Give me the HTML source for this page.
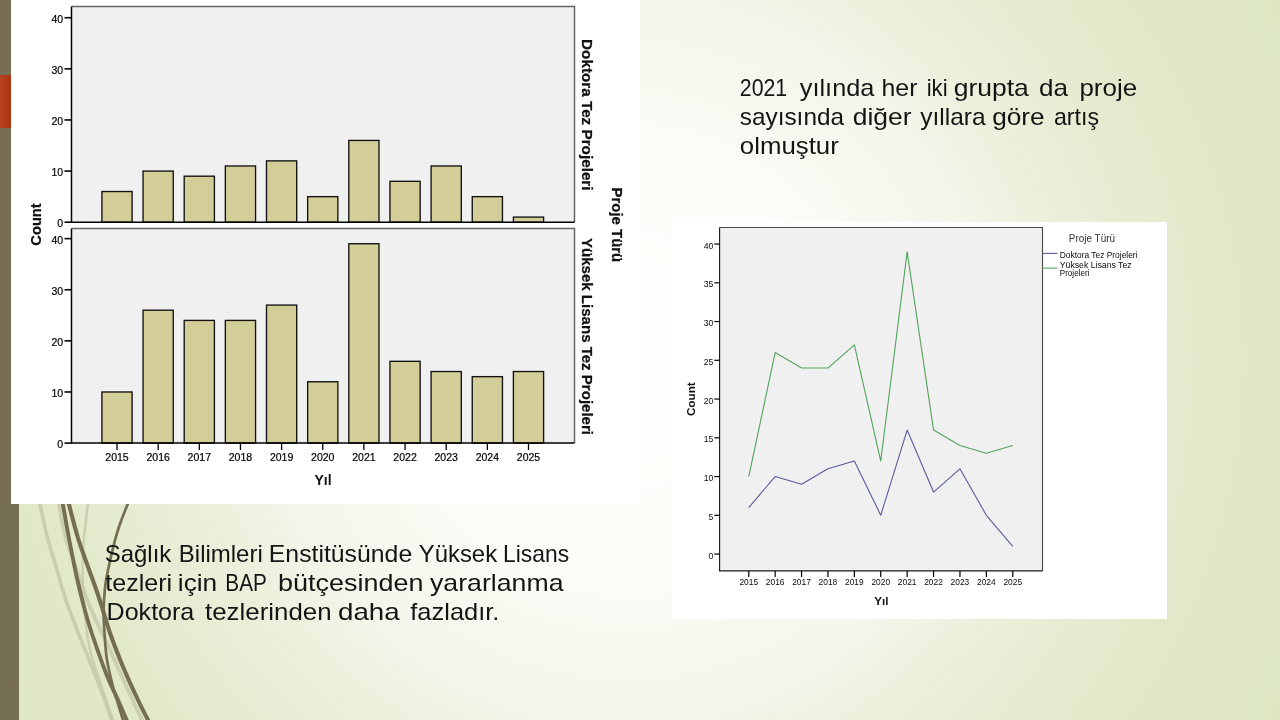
<!DOCTYPE html>
<html lang="tr">
<head>
<meta charset="utf-8">
<title>Proje Türü - Yıl</title>
<style>
html,body{margin:0;padding:0;}
body{width:1280px;height:720px;overflow:hidden;position:relative;font-family:"Liberation Sans", Arial, sans-serif;
background:#e2e9ca;}
#bg{position:absolute;left:0;top:0;width:1280px;height:720px;
background:radial-gradient(circle 745px at 626px 360px,#fefefc 0%,#fcfdf9 27%,#f2f5e8 49%,#eaefd9 61%,#e2e9ca 79%,#dde6c1 100%);}
#strip{position:absolute;left:0;top:0;width:19px;height:720px;background:#766f54;}
#accent{position:absolute;left:0;top:75px;width:11px;height:53px;background:linear-gradient(90deg,#b5441e,#ad3313);}
#wisp{position:absolute;left:0;top:0;}
.pic{position:absolute;background:#fff;}
svg text{font-family:"Liberation Sans", Arial, sans-serif;}
#c1{left:11px;top:0;width:629px;height:504px;}
#c2{left:672px;top:222px;width:495px;height:397px;}
#all{position:absolute;left:0;top:0;will-change:transform;}
</style>
</head>
<body>
<div id="bg"></div>
<div id="strip"></div>
<div id="accent"></div>

<svg id="wisp" width="1280" height="720" viewBox="0 0 1280 720" fill="none" stroke-linecap="butt">
<path d="M37.0 490.0 C37.5 492.3 38.1 496.0 39.9 504.0 C41.6 512.0 44.7 527.2 47.5 538.0 C50.3 548.8 53.7 558.4 56.7 568.7 C59.8 579.0 61.6 587.8 65.8 600.0 C70.0 612.2 76.3 627.9 81.7 641.7 C87.1 655.5 93.3 670.0 98.3 683.0 C103.3 696.0 109.1 712.7 111.7 720.0 C114.3 727.3 113.6 725.8 114.0 727.0" stroke="#c5c9ad" stroke-width="3.6" opacity="0.85"/>
<path d="M57.0 490.0 C57.3 492.3 57.5 496.0 59.0 504.0 C60.5 512.0 62.9 527.2 65.8 538.0 C68.7 548.8 73.5 559.8 76.5 568.7 C79.5 577.7 80.9 583.5 84.0 591.7 C87.1 599.9 90.7 608.3 95.0 618.0 C99.3 627.7 104.5 638.0 110.0 650.0 C115.5 662.0 122.5 678.0 128.0 690.0 C133.5 702.0 140.5 716.7 143.0 722.0" stroke="#c5c9ad" stroke-width="4" opacity="0.8"/>
<path d="M90.0 490.0 C89.7 492.3 89.0 496.0 88.0 504.0 C87.0 512.0 84.9 528.5 84.0 538.0 C83.1 547.5 82.8 552.3 82.6 561.0 C82.4 569.7 82.6 580.7 83.0 590.0 C83.4 599.3 83.8 606.7 85.0 616.7 C86.2 626.7 87.2 638.3 90.0 650.0 C92.8 661.7 97.9 675.0 101.7 686.7 C105.5 698.4 110.8 713.5 113.0 720.0 C115.2 726.5 114.7 725.0 115.0 726.0" stroke="#c5c9ad" stroke-width="2.6" opacity="0.8"/>
<path d="M60.0 490.0 C60.5 492.3 61.3 496.0 62.8 504.0 C64.3 512.0 66.6 526.0 68.9 538.0 C71.2 550.0 74.0 564.5 76.5 576.0 C79.0 587.5 81.5 597.5 84.0 607.0 C86.5 616.5 87.9 621.7 91.7 633.0 C95.5 644.3 102.3 663.8 106.7 675.0 C111.1 686.2 114.7 692.5 118.0 700.0 C121.3 707.5 124.7 715.5 126.7 720.0 C128.7 724.5 129.4 725.8 130.0 727.0" stroke="#766e53" stroke-width="3.9" opacity="1"/>
<path d="M66.0 490.0 C66.5 492.3 66.9 496.0 68.9 504.0 C70.9 512.0 74.7 527.2 78.0 538.0 C81.3 548.8 85.1 558.5 88.7 568.7 C92.3 578.9 95.9 588.3 99.4 599.0 C103.0 609.7 106.1 621.7 110.0 633.0 C113.9 644.3 118.3 655.5 123.0 666.7 C127.7 677.9 133.8 691.1 138.0 700.0 C142.2 708.9 145.8 715.7 148.0 720.0 C150.2 724.3 150.5 725.0 151.0 726.0" stroke="#766e53" stroke-width="4.1" opacity="1"/>
<path d="M134.0 490.0 C132.9 492.3 130.4 497.2 127.7 504.0 C125.0 510.8 120.8 521.0 117.8 530.5 C114.8 540.0 112.0 552.1 110.0 561.0 C108.0 569.9 106.5 576.3 105.5 584.0 C104.5 591.7 104.0 600.2 103.7 607.0 C103.5 613.8 103.5 616.5 104.0 625.0 C104.5 633.5 105.2 647.7 106.7 658.0 C108.2 668.3 110.3 676.4 113.0 686.7 C115.7 697.0 121.0 713.5 123.0 720.0 C125.0 726.5 124.7 725.0 125.0 726.0" stroke="#766e53" stroke-width="2.7" opacity="1"/>
</svg>
<div class="pic" id="c1"></div>
<div class="pic" id="c2"></div>
<svg id="all" width="1280" height="720" viewBox="0 0 1280 720">
<rect x="71.5" y="6.5" width="503.0" height="215.7" fill="#f0f0f0"/>
<rect x="101.90" y="191.53" width="30.2" height="30.67" fill="#d3ce97" stroke="#111" stroke-width="1.35"/>
<rect x="143.05" y="171.08" width="30.2" height="51.12" fill="#d3ce97" stroke="#111" stroke-width="1.35"/>
<rect x="184.20" y="176.19" width="30.2" height="46.01" fill="#d3ce97" stroke="#111" stroke-width="1.35"/>
<rect x="225.35" y="165.97" width="30.2" height="56.23" fill="#d3ce97" stroke="#111" stroke-width="1.35"/>
<rect x="266.50" y="160.86" width="30.2" height="61.34" fill="#d3ce97" stroke="#111" stroke-width="1.35"/>
<rect x="307.65" y="196.64" width="30.2" height="25.56" fill="#d3ce97" stroke="#111" stroke-width="1.35"/>
<rect x="348.80" y="140.41" width="30.2" height="81.79" fill="#d3ce97" stroke="#111" stroke-width="1.35"/>
<rect x="389.95" y="181.30" width="30.2" height="40.90" fill="#d3ce97" stroke="#111" stroke-width="1.35"/>
<rect x="431.10" y="165.97" width="30.2" height="56.23" fill="#d3ce97" stroke="#111" stroke-width="1.35"/>
<rect x="472.25" y="196.64" width="30.2" height="25.56" fill="#d3ce97" stroke="#111" stroke-width="1.35"/>
<rect x="513.40" y="217.09" width="30.2" height="5.11" fill="#d3ce97" stroke="#111" stroke-width="1.35"/>
<path d="M71.5 6.5 H574.5 V222.2" fill="none" stroke="#666" stroke-width="1.5"/>
<path d="M71.5 6.5 V222.2 H574.5" fill="none" stroke="#000" stroke-width="1.5"/>
<line x1="64.5" x2="71.5" y1="222.20" y2="222.20" stroke="#000" stroke-width="1.6"/>
<text x="63.2" y="227.20" font-size="10.5" text-anchor="end" fill="#000" stroke="#000" stroke-width="0.2">0</text>
<line x1="64.5" x2="71.5" y1="171.08" y2="171.08" stroke="#000" stroke-width="1.6"/>
<text x="63.2" y="176.08" font-size="10.5" text-anchor="end" fill="#000" stroke="#000" stroke-width="0.2">10</text>
<line x1="64.5" x2="71.5" y1="119.96" y2="119.96" stroke="#000" stroke-width="1.6"/>
<text x="63.2" y="124.96" font-size="10.5" text-anchor="end" fill="#000" stroke="#000" stroke-width="0.2">20</text>
<line x1="64.5" x2="71.5" y1="68.84" y2="68.84" stroke="#000" stroke-width="1.6"/>
<text x="63.2" y="73.84" font-size="10.5" text-anchor="end" fill="#000" stroke="#000" stroke-width="0.2">30</text>
<line x1="64.5" x2="71.5" y1="17.72" y2="17.72" stroke="#000" stroke-width="1.6"/>
<text x="63.2" y="22.72" font-size="10.5" text-anchor="end" fill="#000" stroke="#000" stroke-width="0.2">40</text>
<rect x="71.5" y="228.4" width="503.0" height="214.7" fill="#f0f0f0"/>
<rect x="101.90" y="391.98" width="30.2" height="51.12" fill="#d3ce97" stroke="#111" stroke-width="1.35"/>
<rect x="143.05" y="310.19" width="30.2" height="132.91" fill="#d3ce97" stroke="#111" stroke-width="1.35"/>
<rect x="184.20" y="320.41" width="30.2" height="122.69" fill="#d3ce97" stroke="#111" stroke-width="1.35"/>
<rect x="225.35" y="320.41" width="30.2" height="122.69" fill="#d3ce97" stroke="#111" stroke-width="1.35"/>
<rect x="266.50" y="305.08" width="30.2" height="138.02" fill="#d3ce97" stroke="#111" stroke-width="1.35"/>
<rect x="307.65" y="381.76" width="30.2" height="61.34" fill="#d3ce97" stroke="#111" stroke-width="1.35"/>
<rect x="348.80" y="243.73" width="30.2" height="199.37" fill="#d3ce97" stroke="#111" stroke-width="1.35"/>
<rect x="389.95" y="361.31" width="30.2" height="81.79" fill="#d3ce97" stroke="#111" stroke-width="1.35"/>
<rect x="431.10" y="371.53" width="30.2" height="71.57" fill="#d3ce97" stroke="#111" stroke-width="1.35"/>
<rect x="472.25" y="376.64" width="30.2" height="66.46" fill="#d3ce97" stroke="#111" stroke-width="1.35"/>
<rect x="513.40" y="371.53" width="30.2" height="71.57" fill="#d3ce97" stroke="#111" stroke-width="1.35"/>
<path d="M71.5 228.4 H574.5 V443.1" fill="none" stroke="#666" stroke-width="1.5"/>
<path d="M71.5 228.4 V443.1 H574.5" fill="none" stroke="#000" stroke-width="1.5"/>
<line x1="64.5" x2="71.5" y1="443.10" y2="443.10" stroke="#000" stroke-width="1.6"/>
<text x="63.2" y="448.10" font-size="10.5" text-anchor="end" fill="#000" stroke="#000" stroke-width="0.2">0</text>
<line x1="64.5" x2="71.5" y1="391.98" y2="391.98" stroke="#000" stroke-width="1.6"/>
<text x="63.2" y="396.98" font-size="10.5" text-anchor="end" fill="#000" stroke="#000" stroke-width="0.2">10</text>
<line x1="64.5" x2="71.5" y1="340.86" y2="340.86" stroke="#000" stroke-width="1.6"/>
<text x="63.2" y="345.86" font-size="10.5" text-anchor="end" fill="#000" stroke="#000" stroke-width="0.2">20</text>
<line x1="64.5" x2="71.5" y1="289.74" y2="289.74" stroke="#000" stroke-width="1.6"/>
<text x="63.2" y="294.74" font-size="10.5" text-anchor="end" fill="#000" stroke="#000" stroke-width="0.2">30</text>
<line x1="64.5" x2="71.5" y1="238.62" y2="238.62" stroke="#000" stroke-width="1.6"/>
<text x="63.2" y="243.62" font-size="10.5" text-anchor="end" fill="#000" stroke="#000" stroke-width="0.2">40</text>
<line x1="117.00" x2="117.00" y1="443.1" y2="450" stroke="#000" stroke-width="1.3"/>
<text x="117.00" y="460.7" font-size="10.5" text-anchor="middle" fill="#000" stroke="#000" stroke-width="0.2">2015</text>
<line x1="158.15" x2="158.15" y1="443.1" y2="450" stroke="#000" stroke-width="1.3"/>
<text x="158.15" y="460.7" font-size="10.5" text-anchor="middle" fill="#000" stroke="#000" stroke-width="0.2">2016</text>
<line x1="199.30" x2="199.30" y1="443.1" y2="450" stroke="#000" stroke-width="1.3"/>
<text x="199.30" y="460.7" font-size="10.5" text-anchor="middle" fill="#000" stroke="#000" stroke-width="0.2">2017</text>
<line x1="240.45" x2="240.45" y1="443.1" y2="450" stroke="#000" stroke-width="1.3"/>
<text x="240.45" y="460.7" font-size="10.5" text-anchor="middle" fill="#000" stroke="#000" stroke-width="0.2">2018</text>
<line x1="281.60" x2="281.60" y1="443.1" y2="450" stroke="#000" stroke-width="1.3"/>
<text x="281.60" y="460.7" font-size="10.5" text-anchor="middle" fill="#000" stroke="#000" stroke-width="0.2">2019</text>
<line x1="322.75" x2="322.75" y1="443.1" y2="450" stroke="#000" stroke-width="1.3"/>
<text x="322.75" y="460.7" font-size="10.5" text-anchor="middle" fill="#000" stroke="#000" stroke-width="0.2">2020</text>
<line x1="363.90" x2="363.90" y1="443.1" y2="450" stroke="#000" stroke-width="1.3"/>
<text x="363.90" y="460.7" font-size="10.5" text-anchor="middle" fill="#000" stroke="#000" stroke-width="0.2">2021</text>
<line x1="405.05" x2="405.05" y1="443.1" y2="450" stroke="#000" stroke-width="1.3"/>
<text x="405.05" y="460.7" font-size="10.5" text-anchor="middle" fill="#000" stroke="#000" stroke-width="0.2">2022</text>
<line x1="446.20" x2="446.20" y1="443.1" y2="450" stroke="#000" stroke-width="1.3"/>
<text x="446.20" y="460.7" font-size="10.5" text-anchor="middle" fill="#000" stroke="#000" stroke-width="0.2">2023</text>
<line x1="487.35" x2="487.35" y1="443.1" y2="450" stroke="#000" stroke-width="1.3"/>
<text x="487.35" y="460.7" font-size="10.5" text-anchor="middle" fill="#000" stroke="#000" stroke-width="0.2">2024</text>
<line x1="528.50" x2="528.50" y1="443.1" y2="450" stroke="#000" stroke-width="1.3"/>
<text x="528.50" y="460.7" font-size="10.5" text-anchor="middle" fill="#000" stroke="#000" stroke-width="0.2">2025</text>
<text x="323" y="484.8" font-size="14" font-weight="bold" text-anchor="middle" fill="#111">Yıl</text>
<text transform="translate(41.2 224.5) rotate(-90)" font-size="14.7" font-weight="bold" stroke="#111" stroke-width="0.25" text-anchor="middle" fill="#111">Count</text>
<text transform="translate(582.4 114.8) rotate(90)" font-size="14.7" font-weight="bold" stroke="#111" stroke-width="0.25" text-anchor="middle" textLength="151.5" lengthAdjust="spacingAndGlyphs" fill="#111">Doktora Tez Projeleri</text>
<text transform="translate(582.4 336.5) rotate(90)" font-size="14.7" font-weight="bold" stroke="#111" stroke-width="0.25" text-anchor="middle" textLength="197" lengthAdjust="spacingAndGlyphs" fill="#111">Yüksek Lisans Tez Projeleri</text>
<text transform="translate(612 224.9) rotate(90)" font-size="14.7" font-weight="bold" stroke="#111" stroke-width="0.25" text-anchor="middle" textLength="74.6" lengthAdjust="spacingAndGlyphs" fill="#111">Proje Türü</text>
<rect x="719.6" y="227.5" width="322.9" height="343.4" fill="#f0f0f0"/>
<polyline points="748.75,476.55 775.15,352.55 801.55,368.05 827.95,368.05 854.35,344.80 880.75,461.05 907.15,251.80 933.55,430.05 959.95,445.55 986.35,453.30 1012.75,445.55" fill="none" stroke="#52a35a" stroke-width="1.1" stroke-linejoin="round"/>
<polyline points="748.75,507.55 775.15,476.55 801.55,484.30 827.95,468.80 854.35,461.05 880.75,515.30 907.15,430.05 933.55,492.05 959.95,468.80 986.35,515.30 1012.75,546.30" fill="none" stroke="#565d9c" stroke-width="1.1" stroke-linejoin="round"/>
<path d="M719.6 227.5 H1042.5 V570.9" fill="none" stroke="#4a4a4a" stroke-width="1.1"/>
<path d="M719.6 227.5 V570.9 H1042.5" fill="none" stroke="#1a1a1a" stroke-width="1.15"/>
<line x1="714.3" x2="719.6" y1="554.05" y2="554.05" stroke="#000" stroke-width="1.2"/>
<text x="713.2" y="558.65" font-size="8.6" text-anchor="end" fill="#0a0a0a">0</text>
<line x1="714.3" x2="719.6" y1="515.30" y2="515.30" stroke="#000" stroke-width="1.2"/>
<text x="713.2" y="519.90" font-size="8.6" text-anchor="end" fill="#0a0a0a">5</text>
<line x1="714.3" x2="719.6" y1="476.55" y2="476.55" stroke="#000" stroke-width="1.2"/>
<text x="713.2" y="481.15" font-size="8.6" text-anchor="end" fill="#0a0a0a">10</text>
<line x1="714.3" x2="719.6" y1="437.80" y2="437.80" stroke="#000" stroke-width="1.2"/>
<text x="713.2" y="442.40" font-size="8.6" text-anchor="end" fill="#0a0a0a">15</text>
<line x1="714.3" x2="719.6" y1="399.05" y2="399.05" stroke="#000" stroke-width="1.2"/>
<text x="713.2" y="403.65" font-size="8.6" text-anchor="end" fill="#0a0a0a">20</text>
<line x1="714.3" x2="719.6" y1="360.30" y2="360.30" stroke="#000" stroke-width="1.2"/>
<text x="713.2" y="364.90" font-size="8.6" text-anchor="end" fill="#0a0a0a">25</text>
<line x1="714.3" x2="719.6" y1="321.55" y2="321.55" stroke="#000" stroke-width="1.2"/>
<text x="713.2" y="326.15" font-size="8.6" text-anchor="end" fill="#0a0a0a">30</text>
<line x1="714.3" x2="719.6" y1="282.80" y2="282.80" stroke="#000" stroke-width="1.2"/>
<text x="713.2" y="287.40" font-size="8.6" text-anchor="end" fill="#0a0a0a">35</text>
<line x1="714.3" x2="719.6" y1="244.05" y2="244.05" stroke="#000" stroke-width="1.2"/>
<text x="713.2" y="248.65" font-size="8.6" text-anchor="end" fill="#0a0a0a">40</text>
<line x1="748.75" x2="748.75" y1="570.9" y2="577" stroke="#000" stroke-width="1.2"/>
<text x="748.75" y="585.3" font-size="8.6" text-anchor="middle" textLength="18.7" lengthAdjust="spacingAndGlyphs" fill="#0a0a0a">2015</text>
<line x1="775.15" x2="775.15" y1="570.9" y2="577" stroke="#000" stroke-width="1.2"/>
<text x="775.15" y="585.3" font-size="8.6" text-anchor="middle" textLength="18.7" lengthAdjust="spacingAndGlyphs" fill="#0a0a0a">2016</text>
<line x1="801.55" x2="801.55" y1="570.9" y2="577" stroke="#000" stroke-width="1.2"/>
<text x="801.55" y="585.3" font-size="8.6" text-anchor="middle" textLength="18.7" lengthAdjust="spacingAndGlyphs" fill="#0a0a0a">2017</text>
<line x1="827.95" x2="827.95" y1="570.9" y2="577" stroke="#000" stroke-width="1.2"/>
<text x="827.95" y="585.3" font-size="8.6" text-anchor="middle" textLength="18.7" lengthAdjust="spacingAndGlyphs" fill="#0a0a0a">2018</text>
<line x1="854.35" x2="854.35" y1="570.9" y2="577" stroke="#000" stroke-width="1.2"/>
<text x="854.35" y="585.3" font-size="8.6" text-anchor="middle" textLength="18.7" lengthAdjust="spacingAndGlyphs" fill="#0a0a0a">2019</text>
<line x1="880.75" x2="880.75" y1="570.9" y2="577" stroke="#000" stroke-width="1.2"/>
<text x="880.75" y="585.3" font-size="8.6" text-anchor="middle" textLength="18.7" lengthAdjust="spacingAndGlyphs" fill="#0a0a0a">2020</text>
<line x1="907.15" x2="907.15" y1="570.9" y2="577" stroke="#000" stroke-width="1.2"/>
<text x="907.15" y="585.3" font-size="8.6" text-anchor="middle" textLength="18.7" lengthAdjust="spacingAndGlyphs" fill="#0a0a0a">2021</text>
<line x1="933.55" x2="933.55" y1="570.9" y2="577" stroke="#000" stroke-width="1.2"/>
<text x="933.55" y="585.3" font-size="8.6" text-anchor="middle" textLength="18.7" lengthAdjust="spacingAndGlyphs" fill="#0a0a0a">2022</text>
<line x1="959.95" x2="959.95" y1="570.9" y2="577" stroke="#000" stroke-width="1.2"/>
<text x="959.95" y="585.3" font-size="8.6" text-anchor="middle" textLength="18.7" lengthAdjust="spacingAndGlyphs" fill="#0a0a0a">2023</text>
<line x1="986.35" x2="986.35" y1="570.9" y2="577" stroke="#000" stroke-width="1.2"/>
<text x="986.35" y="585.3" font-size="8.6" text-anchor="middle" textLength="18.7" lengthAdjust="spacingAndGlyphs" fill="#0a0a0a">2024</text>
<line x1="1012.75" x2="1012.75" y1="570.9" y2="577" stroke="#000" stroke-width="1.2"/>
<text x="1012.75" y="585.3" font-size="8.6" text-anchor="middle" textLength="18.7" lengthAdjust="spacingAndGlyphs" fill="#0a0a0a">2025</text>
<text x="881.4" y="604.7" font-size="11.6" font-weight="bold" text-anchor="middle" fill="#111">Yıl</text>
<text transform="translate(694.8 399.2) rotate(-90)" font-size="11.7" font-weight="bold" text-anchor="middle" fill="#111">Count</text>
<text x="1068.8" y="241.6" font-size="10" textLength="46.3" lengthAdjust="spacingAndGlyphs" fill="#333">Proje Türü</text>
<line x1="1042.5" x2="1057.5" y1="253.4" y2="253.4" stroke="#565d9c" stroke-width="1.1"/>
<text x="1059.8" y="257.5" font-size="8.6" textLength="77.7" lengthAdjust="spacingAndGlyphs" fill="#0a0a0a">Doktora Tez Projeleri</text>
<line x1="1042.5" x2="1057.5" y1="268.1" y2="268.1" stroke="#52a35a" stroke-width="1.1"/>
<text x="1059.8" y="267.5" font-size="8.6" textLength="71.8" lengthAdjust="spacingAndGlyphs" fill="#0a0a0a">Yüksek Lisans Tez</text>
<text x="1059.8" y="276.3" font-size="8.6" textLength="29.6" lengthAdjust="spacingAndGlyphs" fill="#0a0a0a">Projeleri</text>
<text y="562.2" font-size="23.4" fill="#141414"><tspan x="104.7" textLength="66.6" lengthAdjust="spacingAndGlyphs">Sağlık</tspan> <tspan x="178.8" textLength="84.0" lengthAdjust="spacingAndGlyphs">Bilimleri</tspan> <tspan x="268.8" textLength="143.4" lengthAdjust="spacingAndGlyphs">Enstitüsünde</tspan> <tspan x="418.8" textLength="78.3" lengthAdjust="spacingAndGlyphs">Yüksek</tspan> <tspan x="503.1" textLength="66.0" lengthAdjust="spacingAndGlyphs">Lisans</tspan></text>
<text y="591.1" font-size="23.4" fill="#141414"><tspan x="105.2" textLength="67.0" lengthAdjust="spacingAndGlyphs">tezleri</tspan> <tspan x="177.8" textLength="39.4" lengthAdjust="spacingAndGlyphs">için</tspan> <tspan x="225.3" textLength="41.2" lengthAdjust="spacingAndGlyphs">BAP</tspan> <tspan x="278.1" textLength="145.3" lengthAdjust="spacingAndGlyphs">bütçesinden</tspan> <tspan x="430.0" textLength="133.5" lengthAdjust="spacingAndGlyphs">yararlanma</tspan></text>
<text y="620.3" font-size="23.4" fill="#141414"><tspan x="106.6" textLength="87.7" lengthAdjust="spacingAndGlyphs">Doktora</tspan> <tspan x="205.0" textLength="126.6" lengthAdjust="spacingAndGlyphs">tezlerinden</tspan> <tspan x="338.0" textLength="61.6" lengthAdjust="spacingAndGlyphs">daha</tspan> <tspan x="410.3" textLength="89.1" lengthAdjust="spacingAndGlyphs">fazladır.</tspan></text>
<text y="96.4" font-size="23.4" fill="#141414"><tspan x="739.8" textLength="47.4" lengthAdjust="spacingAndGlyphs">2021</tspan> <tspan x="799.8" textLength="74.6" lengthAdjust="spacingAndGlyphs">yılında</tspan> <tspan x="881.5" textLength="36.0" lengthAdjust="spacingAndGlyphs">her</tspan> <tspan x="926.7" textLength="20.9" lengthAdjust="spacingAndGlyphs">iki</tspan> <tspan x="953.7" textLength="75.1" lengthAdjust="spacingAndGlyphs">grupta</tspan> <tspan x="1039.0" textLength="29.0" lengthAdjust="spacingAndGlyphs">da</tspan> <tspan x="1079.4" textLength="57.7" lengthAdjust="spacingAndGlyphs">proje</tspan></text>
<text y="125.4" font-size="23.4" fill="#141414"><tspan x="739.8" textLength="104.2" lengthAdjust="spacingAndGlyphs">sayısında</tspan> <tspan x="852.8" textLength="58.7" lengthAdjust="spacingAndGlyphs">diğer</tspan> <tspan x="920.2" textLength="65.4" lengthAdjust="spacingAndGlyphs">yıllara</tspan> <tspan x="992.2" textLength="52.5" lengthAdjust="spacingAndGlyphs">göre</tspan> <tspan x="1054.0" textLength="45.0" lengthAdjust="spacingAndGlyphs">artış</tspan></text>
<text y="154.2" font-size="23.4" fill="#141414"><tspan x="739.8" textLength="99.0" lengthAdjust="spacingAndGlyphs">olmuştur</tspan></text>
</svg>
</body>
</html>
